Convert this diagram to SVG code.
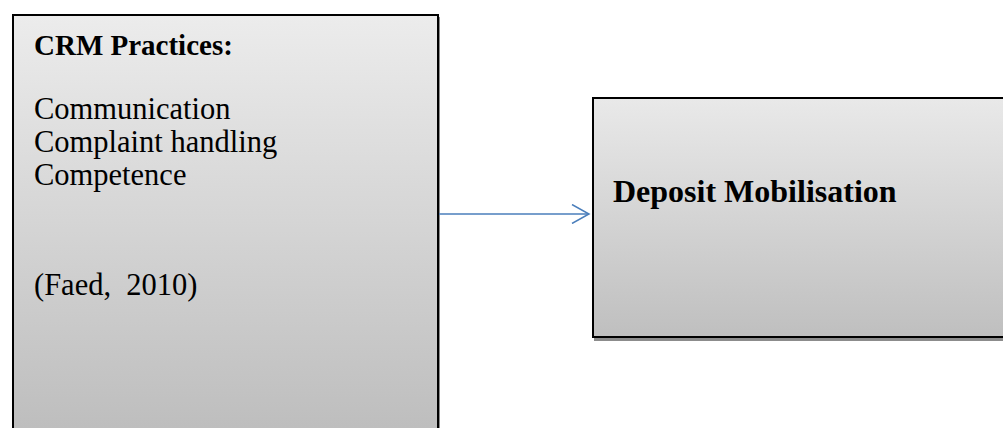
<svg xmlns="http://www.w3.org/2000/svg" width="1003" height="428" viewBox="0 0 1003 428">
  <style>
    .box { stroke: #000; stroke-width: 2; }
    .shadow { fill: #8c8c8c; }
    .txt { font-family: "Liberation Serif", "Times New Roman", serif; font-size: 30.5px; fill: #000; }
    .bold { font-weight: bold; }
    .head { font-size: 29px; }
    .big { font-size: 32px; }
    .conn { stroke: #4a7ebb; stroke-width: 1.5; fill: none; }
  </style>
  <defs>
    <linearGradient id="fillLeft" x1="0" y1="0" x2="0" y2="1">
      <stop offset="0" stop-color="#ececec"/>
      <stop offset="1" stop-color="#bcbcbc"/>
    </linearGradient>
    <linearGradient id="fillRight" x1="0" y1="0" x2="0" y2="1">
      <stop offset="0" stop-color="#e9e9e9"/>
      <stop offset="1" stop-color="#bfbfbf"/>
    </linearGradient>
    <marker id="open" viewBox="0 0 20 20" refX="18" refY="10" markerWidth="20" markerHeight="20" markerUnits="userSpaceOnUse" orient="auto">
      <path d="M1,0.5 L18,10 L1,19.5" fill="none" stroke="#4a7ebb" stroke-width="1.5"/>
    </marker>
  </defs>

  <!-- left node: practices -->
  <g id="crm-practices">
    <rect class="shadow" x="15" y="17" width="425" height="430"/>
    <rect class="box" x="13" y="15" width="425" height="430" fill="url(#fillLeft)"/>
    <text class="txt bold head" x="34" y="55">CRM Practices:</text>
    <text class="txt" x="34" y="119">Communication</text>
    <text class="txt" x="34" y="152">Complaint handling</text>
    <text class="txt" x="34" y="185">Competence</text>
    <text class="txt" x="34" y="295" xml:space="preserve">(Faed,  2010)</text>
  </g>

  <!-- right node: outcome -->
  <g id="deposit-mobilisation">
    <rect class="shadow" x="594" y="100" width="420" height="241"/>
    <rect class="box" x="593" y="98" width="420" height="239" fill="url(#fillRight)"/>
    <text class="txt bold big" x="613" y="202">Deposit Mobilisation</text>
  </g>

  <!-- connectors -->
  <g id="connectors">
    <line class="conn" x1="439" y1="214" x2="589" y2="214" marker-end="url(#open)"/>
  </g>
</svg>
